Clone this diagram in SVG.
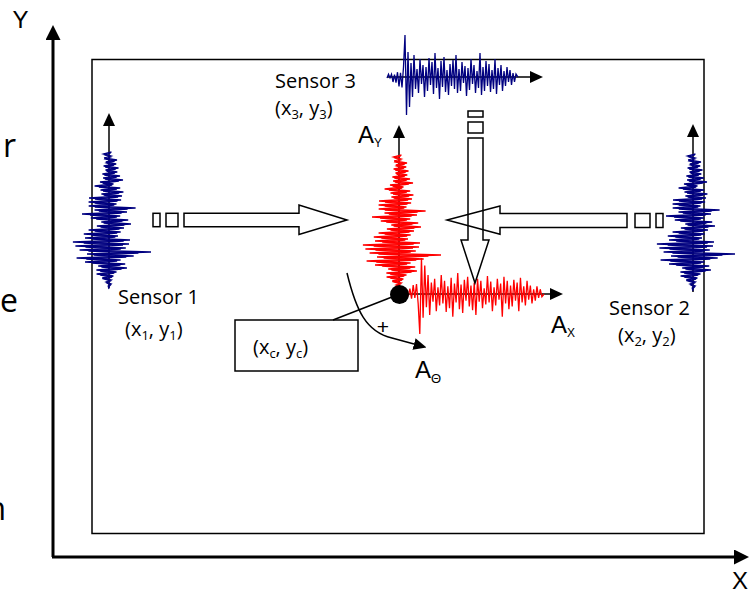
<svg xmlns="http://www.w3.org/2000/svg" xmlns:xlink="http://www.w3.org/1999/xlink" width="756" height="594" viewBox="0 0 756 594">
<style>
.lbl{font-family:"Open Sans","Liberation Sans",Arial,sans-serif;font-size:20px;fill:#000}
.ax{font-family:"Liberation Sans",Arial,sans-serif;font-size:24px;fill:#000}
.al{font-family:"Liberation Sans",Arial,sans-serif;font-size:24px;fill:#000}
.sub{font-size:13px}
.ln{stroke:#000;stroke-width:1.5;fill:none}
.blk{stroke:#000;stroke-width:1.5;fill:none}
.wave{fill:none;stroke-width:1.3;stroke-linejoin:miter}
.blue{stroke:#000080}
.red{stroke:#ff0000}
</style>
<defs>
<marker id="ah" markerWidth="13" markerHeight="12" refX="0" refY="6" orient="auto" markerUnits="userSpaceOnUse"><path d="M0,0 L13,6 L0,12 Z" fill="#000"/></marker>
<marker id="ahL" markerWidth="15" markerHeight="15" refX="0" refY="7.5" orient="auto" markerUnits="userSpaceOnUse"><path d="M0,0 L15,7.5 L0,15 Z" fill="#000"/></marker>
<path id="vwave" vector-effect="non-scaling-stroke" d="M2.5,0 L-5.4,2 L2.1,4 L-4.9,6 L8,8 L-3.2,10 L7.2,12 L-5.4,14 L9.5,16 L-3.5,18 L8.3,20 L-6.6,22 L11,24 L-5.9,26 L14,28 L-9,30 L4.5,32 L-14.4,34 L11.2,36 L-8.5,38 L14.4,40 L-7.6,42 L13,44 L-20,46 L12.1,48 L-20.4,50 L7.5,52 L-20.3,54 L26.6,56 L-14.5,58 L18,60 L-27,62 L11.2,64 L-18.2,66 L19.2,68 L-7.7,70 L22,72 L-12.1,74 L15,76 L-20.4,78 L11.7,80 L-25.2,82 L9,84 L-24,86 L21,88 L-36.1,90 L20,92 L-33.6,94 L16.8,96 L-29.4,98 L42,100 L-22,102 L24.7,104 L-32.4,106 L11.6,108 L-24,110 L16.2,112 L-10.8,114 L17.9,116 L-12.6,118 L7.5,120 L-12.4,122 L4.4,124 L-6.8,126 L2.1,128 L-3,130 L2.2,132 L-0.8,134 L0,136"/>
<path id="hwave" vector-effect="non-scaling-stroke" d="M0,1 L1.5,-2.7 L3,0.9 L4.5,-2.8 L6,5 L7.5,-2.4 L9,5.6 L10.5,-4.8 L12,9.5 L13.5,-4.2 L15,10.5 L16.5,-9.9 L18,-42 L19.5,38 L21,-25 L22.5,30 L24,-14 L25.5,20 L27,-22 L28.5,12 L30,-8 L31.5,16 L33,-18 L34.5,7 L36,-12 L37.5,20 L39,-10 L40.5,14 L42,-19 L43.5,8 L45,-15 L46.5,17 L48,-24 L49.5,11 L51,-9 L52.5,22 L54,-16 L55.5,10 L57,-20 L58.5,15 L60,-7 L61.5,18 L63,-13 L64.5,9 L66,-17 L67.5,12 L69,-22 L70.5,16 L72,-8 L73.5,14 L75,-15 L76.5,6 L78,-11 L79.5,19 L81,-9 L82.5,13 L84,-18 L85.5,7 L87,-12 L88.5,16 L90,-6 L91.5,11 L93,-24 L94.5,18 L96,-10 L97.5,14 L99,-16 L100.5,9 L102,-13 L103.5,15 L105,-7 L106.5,12 L108,-18 L109.5,17 L111,-9 L112.5,8 L114,-12 L115.5,14 L117,-6 L118.5,9 L120,-10 L121.5,5 L123,-7 L124.5,8 L126,-4 L127.5,5 L129,-3 L131,0"/>
</defs>
<rect width="756" height="594" fill="#fff"/>

<g id="clipped-text" style="font-family:'Open Sans','Liberation Sans',sans-serif;font-size:32px;fill:#000">
<text x="16" y="157" text-anchor="end">r</text>
<text x="0" y="312">e</text>
<text x="6" y="520" text-anchor="end">n</text>
</g>

<g id="axes">
<line x1="53" y1="557" x2="53" y2="40" stroke="#000" stroke-width="3" marker-end="url(#ahL)"/>
<line x1="52" y1="557" x2="734" y2="557" stroke="#000" stroke-width="3" marker-end="url(#ahL)"/>
<text class="ax" x="20.5" y="28" text-anchor="middle">Y</text>
<text class="ax" x="740" y="589" text-anchor="middle">X</text>
</g>

<g id="frame">
<rect x="92" y="59.5" width="612" height="474" fill="none" stroke="#000" stroke-width="1.5"/>
</g>

<g id="sensor1">
<line class="ln" x1="109" y1="288" x2="109" y2="126" marker-end="url(#ah)"/>
<use xlink:href="#vwave" class="wave blue" transform="translate(109,152)"/>
<use xlink:href="#vwave" class="wave blue" transform="translate(109,153) scale(0.7,1)"/>
<text class="lbl" x="118" y="304">Sensor 1</text>
<text class="lbl" x="125" y="336">(x<tspan class="sub" dy="4">1</tspan><tspan dy="-4">, y</tspan><tspan class="sub" dy="4">1</tspan><tspan dy="-4">)</tspan></text>
</g>

<g id="sensor2">
<line class="ln" x1="693" y1="292" x2="693" y2="137" marker-end="url(#ah)"/>
<use xlink:href="#vwave" class="wave blue" transform="translate(693,154)"/>
<use xlink:href="#vwave" class="wave blue" transform="translate(693,155) scale(0.7,1)"/>
<text class="lbl" x="609" y="315">Sensor 2</text>
<text class="lbl" x="618" y="342">(x<tspan class="sub" dy="4">2</tspan><tspan dy="-4">, y</tspan><tspan class="sub" dy="4">2</tspan><tspan dy="-4">)</tspan></text>
</g>

<g id="sensor3">
<line class="ln" x1="387" y1="77" x2="530" y2="77" marker-end="url(#ah)"/>
<use xlink:href="#hwave" class="wave blue" transform="translate(387,77)"/>
<text class="lbl" x="275" y="88">Sensor 3</text>
<text class="lbl" x="275" y="115">(x<tspan class="sub" dy="4">3</tspan><tspan dy="-4">, y</tspan><tspan class="sub" dy="4">3</tspan><tspan dy="-4">)</tspan></text>
</g>

<g id="center">
<line class="ln" x1="399" y1="294" x2="399" y2="138" marker-end="url(#ah)"/>
<line class="ln" x1="399" y1="294" x2="550" y2="294" marker-end="url(#ah)"/>
<use xlink:href="#vwave" class="wave red" transform="translate(399,155)"/>
<use xlink:href="#vwave" class="wave red" transform="translate(399,156) scale(0.7,1)"/>
<use xlink:href="#hwave" class="wave red" transform="translate(400,294) scale(1.1,-0.95)"/>
<circle cx="399.5" cy="294.5" r="9.5" fill="#000"/>
<text class="al" x="358" y="143">A<tspan class="sub" dy="4" style="font-size:12px">Y</tspan></text>
<text class="al" x="551" y="333">A<tspan class="sub" dy="4" style="font-size:12px">X</tspan></text>
<text class="al" x="415" y="378">A<tspan class="sub" dy="5" style="font-size:13px">Θ</tspan></text>
</g>

<g id="centroid-box">
<rect x="235" y="320" width="123" height="51" fill="#fff" stroke="#000" stroke-width="1.5"/>
<text class="lbl" x="253" y="354">(x<tspan class="sub" dy="4">c</tspan><tspan dy="-4">, y</tspan><tspan class="sub" dy="4">c</tspan><tspan dy="-4">)</tspan></text>
</g>

<g id="connectors">
<line class="ln" x1="333" y1="320" x2="392" y2="297"/>
<path class="ln" d="M347,273 C356,310 366,332 392,338 L414,344" marker-end="url(#ah)"/>
<text x="383" y="334" text-anchor="middle" style="font-family:'Liberation Sans',Arial,sans-serif;font-size:21px;fill:#000">+</text>
<rect class="blk" x="153" y="213.3" width="7" height="13.4"/>
<rect class="blk" x="166" y="213.3" width="12" height="13.4"/>
<path class="blk" d="M184,213.3 H299 V205 L347,220 L299,234.5 V226.7 H184 Z"/>
<rect class="blk" x="656" y="213.5" width="7" height="14"/>
<rect class="blk" x="635" y="213.5" width="15" height="14"/>
<path class="blk" d="M627,213.5 H500 V206 L447,220 L500,234.3 V227.5 H627 Z"/>
<rect class="blk" x="468" y="111" width="15" height="6"/>
<rect class="blk" x="468" y="122" width="15" height="11"/>
<path class="blk" d="M468,138 V240 H461 L475,283 L489,240 H483 V138 Z"/>
</g>
</svg>
